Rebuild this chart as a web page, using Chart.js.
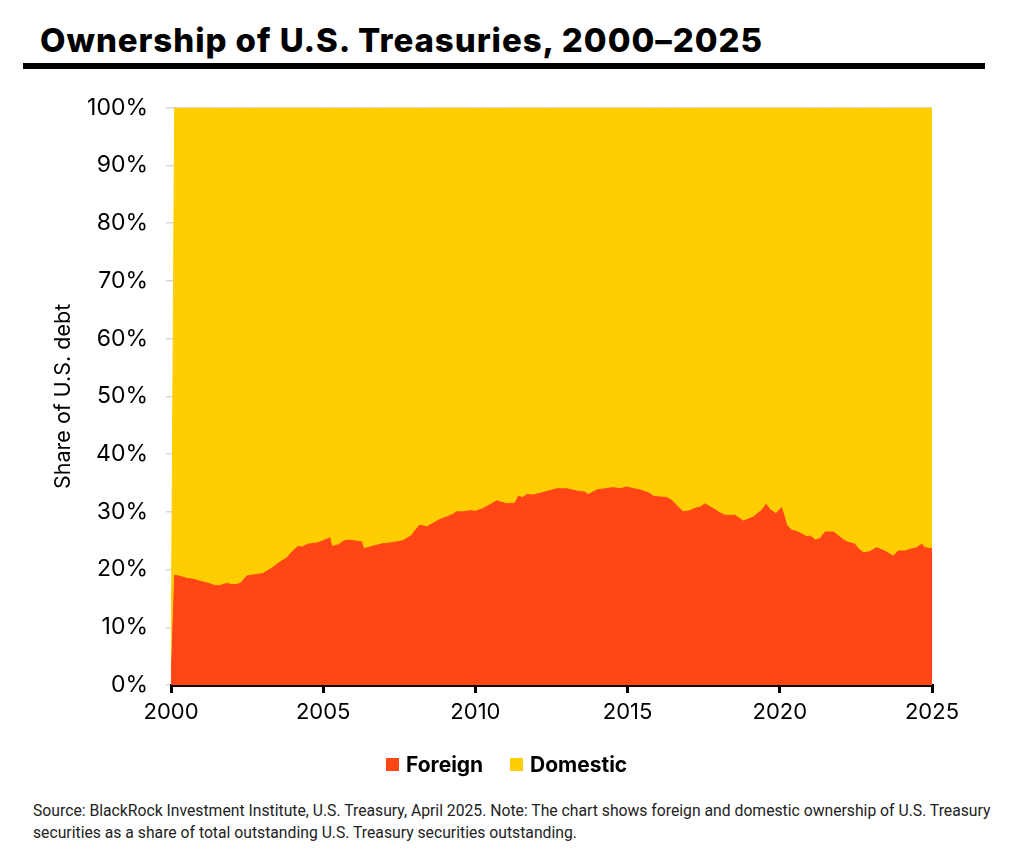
<!DOCTYPE html>
<html>
<head>
<meta charset="utf-8">
<script src="https://cdn.jsdelivr.net/npm/chart.js@4.4.1/dist/chart.umd.min.js"></script>
<style>
  html, body { margin: 0; padding: 0; background: #fff; width: 1012px; height: 861px; overflow: hidden; }
  #title { position: absolute; left: 40px; top: 21px; font-family: Inter, "Noto Sans", sans-serif; font-weight: 800; font-size: 33px; line-height: 38px; color: #000; white-space: nowrap; letter-spacing: 0.95px; }
  #rule { position: absolute; left: 23px; top: 63px; width: 962px; height: 6px; background: #000; }
  #chartBox { position: absolute; left: 0; top: 76px; width: 1012px; height: 682px; }
  #legend { position: absolute; left: 0; top: 751px; width: 1012px; height: 28px; font-family: Inter, "Noto Sans", sans-serif; font-weight: 700; font-size: 21px; color: #000; }
  .lg { position: absolute; top: 0; line-height: 28px; white-space: nowrap; }
  .sw { display: inline-block; width: 13px; height: 13px; vertical-align: middle; margin-right: 7px; position: relative; top: -2px; }
  #foot { position: absolute; left: 33px; top: 800px; font-family: Roboto, "Noto Sans", sans-serif; font-size: 16px; line-height: 22px; color: #222; white-space: nowrap; transform-origin: 0 0; }
  #foot div { white-space: nowrap; }
</style>
</head>
<body>
<div id="title">Ownership of U.S. Treasuries, 2000–2025</div>
<div id="rule"></div>
<div id="chartBox"><canvas id="c" width="1012" height="682"></canvas></div>
<div id="legend">
  <div class="lg" style="left:386px"><span class="sw" id="swF"></span>Foreign</div>
  <div class="lg" style="left:510px"><span class="sw" id="swD"></span>Domestic</div>
</div>
<div id="foot">
  <div id="f1">Source: BlackRock Investment Institute, U.S. Treasury, April 2025. Note: The chart shows foreign and domestic ownership of U.S. Treasury</div>
  <div id="f2">securities as a share of total outstanding U.S. Treasury securities outstanding.</div>
</div>
<script>
// ---- data (share of U.S. Treasury securities, %) ----
const years = [
  2000.00, 2000.12, 2000.25, 2000.50, 2000.75, 2001.00, 2001.25, 2001.45, 2001.60, 2001.83,
  2002.00, 2002.16, 2002.30, 2002.49, 2002.75, 2003.02, 2003.30, 2003.58, 2003.80, 2004.00,
  2004.17, 2004.30, 2004.50, 2004.79, 2005.00, 2005.22, 2005.28, 2005.50, 2005.70, 2005.81,
  2006.00, 2006.26, 2006.33, 2006.60, 2006.96, 2007.20, 2007.62, 2007.90, 2008.10, 2008.18,
  2008.40, 2008.60, 2008.84, 2009.10, 2009.27, 2009.39, 2009.60, 2009.82, 2010.00, 2010.26,
  2010.50, 2010.70, 2011.03, 2011.30, 2011.41, 2011.55, 2011.69, 2011.90, 2012.12, 2012.40,
  2012.67, 2013.00, 2013.33, 2013.60, 2013.71, 2013.99, 2014.25, 2014.53, 2014.75, 2014.97,
  2015.20, 2015.41, 2015.73, 2015.84, 2016.00, 2016.28, 2016.45, 2016.61, 2016.83, 2017.05,
  2017.20, 2017.38, 2017.54, 2017.80, 2018.04, 2018.20, 2018.53, 2018.80, 2019.13, 2019.41,
  2019.55, 2019.68, 2019.87, 2020.06, 2020.23, 2020.39, 2020.56, 2020.89, 2021.00, 2021.17,
  2021.33, 2021.49, 2021.77, 2022.03, 2022.20, 2022.47, 2022.58, 2022.75, 2022.96, 2023.18,
  2023.45, 2023.73, 2023.89, 2024.10, 2024.28, 2024.50, 2024.66, 2024.77, 2025.00
];
const foreign = [
  0.0, 19.0, 18.9, 18.5, 18.3, 17.9, 17.6, 17.2, 17.2, 17.6,
  17.4, 17.4, 17.7, 18.9, 19.1, 19.3, 20.2, 21.3, 22.0, 23.2,
  24.0, 23.9, 24.4, 24.6, 25.0, 25.5, 24.0, 24.3, 25.0, 25.1,
  25.0, 24.8, 23.6, 24.0, 24.5, 24.6, 25.0, 25.9, 27.3, 27.7,
  27.4, 28.0, 28.7, 29.2, 29.6, 30.0, 30.0, 30.2, 30.1, 30.6,
  31.3, 31.9, 31.4, 31.5, 32.7, 32.5, 33.0, 32.9, 33.2, 33.6,
  34.0, 34.0, 33.6, 33.4, 33.0, 33.8, 34.0, 34.2, 34.0, 34.3,
  34.0, 33.8, 33.2, 32.7, 32.6, 32.5, 32.0, 31.1, 30.0, 30.2,
  30.6, 30.8, 31.4, 30.6, 29.8, 29.4, 29.4, 28.4, 29.1, 30.3,
  31.3, 30.4, 29.7, 30.7, 27.7, 26.8, 26.6, 25.7, 25.8, 25.1,
  25.4, 26.5, 26.5, 25.4, 24.8, 24.4, 23.6, 22.9, 23.1, 23.8,
  23.2, 22.3, 23.2, 23.2, 23.5, 23.8, 24.4, 23.8, 23.6
];
const domestic = [
  0.0, 81.0, 81.1, 81.5, 81.7, 82.1, 82.4, 82.8, 82.8, 82.4,
  82.6, 82.6, 82.3, 81.1, 80.9, 80.7, 79.8, 78.7, 78.0, 76.8,
  76.0, 76.1, 75.6, 75.4, 75.0, 74.5, 76.0, 75.7, 75.0, 74.9,
  75.0, 75.2, 76.4, 76.0, 75.5, 75.4, 75.0, 74.1, 72.7, 72.3,
  72.6, 72.0, 71.3, 70.8, 70.4, 70.0, 70.0, 69.8, 69.9, 69.4,
  68.7, 68.1, 68.6, 68.5, 67.3, 67.5, 67.0, 67.1, 66.8, 66.4,
  66.0, 66.0, 66.4, 66.6, 67.0, 66.2, 66.0, 65.8, 66.0, 65.7,
  66.0, 66.2, 66.8, 67.3, 67.4, 67.5, 68.0, 68.9, 70.0, 69.8,
  69.4, 69.2, 68.6, 69.4, 70.2, 70.6, 70.6, 71.6, 70.9, 69.7,
  68.7, 69.6, 70.3, 69.3, 72.3, 73.2, 73.4, 74.3, 74.2, 74.9,
  74.6, 73.5, 73.5, 74.6, 75.2, 75.6, 76.4, 77.1, 76.9, 76.2,
  76.8, 77.7, 76.8, 76.8, 76.5, 76.2, 75.6, 76.2, 76.4
];
const seriesNames = ['Foreign', 'Domestic'];
const xTickYears = [2000, 2005, 2010, 2015, 2020, 2025];

const ORANGE = '#FF4614';
const YELLOW = '#FFCE00';
document.getElementById('swF').style.background = ORANGE;
document.getElementById('swD').style.background = YELLOW;

const toPts = arr => years.map((x, i) => ({ x: x, y: arr[i] }));

new Chart(document.getElementById('c'), {
  type: 'line',
  data: {
    datasets: [
      { label: seriesNames[0], data: toPts(foreign), backgroundColor: ORANGE, borderColor: ORANGE, borderWidth: 1, pointRadius: 0, fill: 'origin', tension: 0 },
      { label: seriesNames[1], data: toPts(domestic), backgroundColor: YELLOW, borderColor: YELLOW, borderWidth: 1, pointRadius: 0, fill: '-1', tension: 0 }
    ]
  },
  options: {
    responsive: false,
    animation: false,
    devicePixelRatio: 1,
    layout: { padding: { top: 8, right: 80, bottom: 0, left: 0 } },
    plugins: { legend: { display: false }, tooltip: { enabled: false } },
    scales: {
      x: {
        type: 'linear', min: 2000, max: 2025, z: 2,
        afterBuildTicks: s => { s.ticks = xTickYears.map(v => ({ value: v })); },
        afterFit: s => { s.height = 73; },
        ticks: { callback: v => String(v), color: '#000', font: { family: 'Inter', size: 22 }, padding: 6, maxRotation: 0, autoSkip: false },
        grid: { drawOnChartArea: false, drawTicks: true, tickLength: 8, color: '#000', lineWidth: 3 },
        border: { display: true, color: '#000', width: 3 }
      },
      y: {
        stacked: true, min: 0, max: 100,
        afterFit: s => { s.width = 171; },
        ticks: { stepSize: 10, callback: v => v + '%', color: '#000', font: { family: 'Inter', size: 23 }, padding: 18 },
        grid: { color: '#d9d9d9', lineWidth: 1.5, tickLength: 5, drawOnChartArea: true },
        border: { display: false },
        title: { display: true, text: 'Share of U.S. debt', color: '#000', font: { family: 'Inter', size: 21.5 }, padding: { top: 51, bottom: 0 } }
      }
    }
  }
});

// fit footnote to source width
const foot = document.getElementById('foot');
const w1 = document.getElementById('f1').scrollWidth;
const sx = 957 / w1;
foot.style.transform = 'scaleX(' + sx + ')';
</script>
</body>
</html>
